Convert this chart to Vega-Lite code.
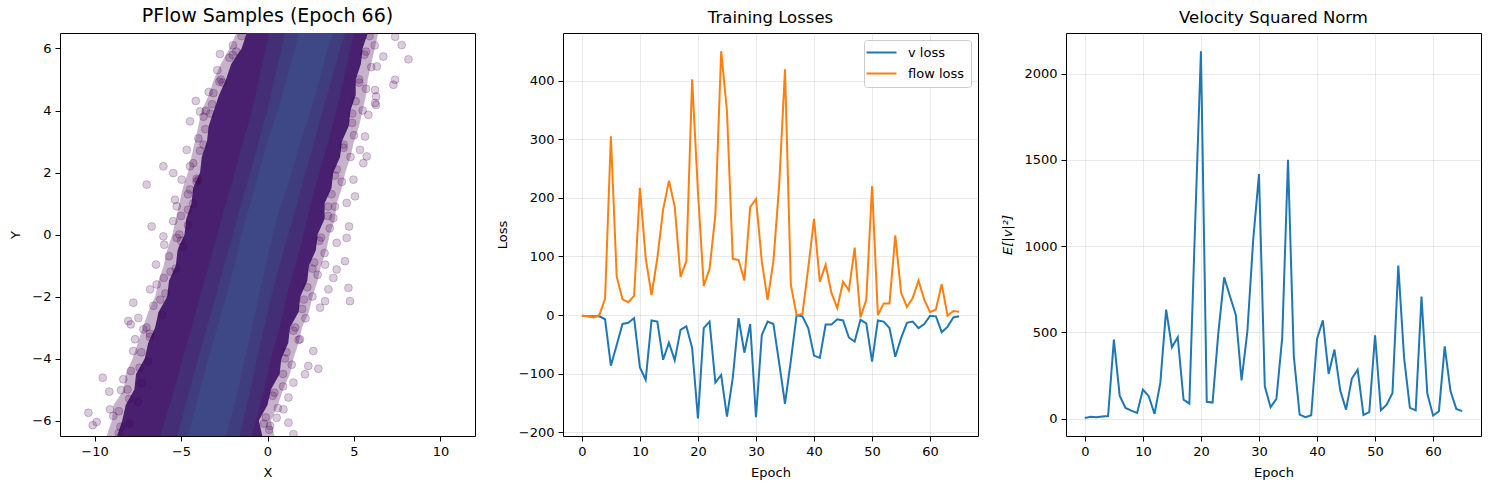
{
  "$schema": "https://vega.github.io/schema/vega-lite/v6.json",
  "padding": {"left": 9, "top": 6, "right": 5, "bottom": 5},
  "spacing": 88,
  "bounds": "flush",
  "datasets": {
    "train": [
      {"epoch": 0, "v loss": -1, "flow loss": -1, "vnorm": 4},
      {"epoch": 1, "v loss": -2, "flow loss": -2, "vnorm": 10},
      {"epoch": 2, "v loss": -2, "flow loss": -4, "vnorm": 8},
      {"epoch": 3, "v loss": -2, "flow loss": 0, "vnorm": 12},
      {"epoch": 4, "v loss": -7, "flow loss": 28, "vnorm": 15},
      {"epoch": 5, "v loss": -86, "flow loss": 305, "vnorm": 458},
      {"epoch": 6, "v loss": -51, "flow loss": 66, "vnorm": 133},
      {"epoch": 7, "v loss": -15, "flow loss": 27, "vnorm": 62},
      {"epoch": 8, "v loss": -13, "flow loss": 22, "vnorm": 46},
      {"epoch": 9, "v loss": -5, "flow loss": 33, "vnorm": 33},
      {"epoch": 10, "v loss": -89, "flow loss": 217, "vnorm": 168},
      {"epoch": 11, "v loss": -110, "flow loss": 97, "vnorm": 130},
      {"epoch": 12, "v loss": -9, "flow loss": 34, "vnorm": 27},
      {"epoch": 13, "v loss": -11, "flow loss": 97, "vnorm": 207},
      {"epoch": 14, "v loss": -76, "flow loss": 180, "vnorm": 632},
      {"epoch": 15, "v loss": -47, "flow loss": 229, "vnorm": 414},
      {"epoch": 16, "v loss": -77, "flow loss": 185, "vnorm": 472},
      {"epoch": 17, "v loss": -25, "flow loss": 65, "vnorm": 110},
      {"epoch": 18, "v loss": -19, "flow loss": 92, "vnorm": 87},
      {"epoch": 19, "v loss": -56, "flow loss": 402, "vnorm": 1130},
      {"epoch": 20, "v loss": -176, "flow loss": 210, "vnorm": 2130},
      {"epoch": 21, "v loss": -22, "flow loss": 50, "vnorm": 97},
      {"epoch": 22, "v loss": -11, "flow loss": 79, "vnorm": 93},
      {"epoch": 23, "v loss": -115, "flow loss": 171, "vnorm": 498},
      {"epoch": 24, "v loss": -102, "flow loss": 450, "vnorm": 819},
      {"epoch": 25, "v loss": -173, "flow loss": 348, "vnorm": 709},
      {"epoch": 26, "v loss": -107, "flow loss": 96, "vnorm": 603},
      {"epoch": 27, "v loss": -5, "flow loss": 94, "vnorm": 222},
      {"epoch": 28, "v loss": -64, "flow loss": 59, "vnorm": 506},
      {"epoch": 29, "v loss": -15, "flow loss": 184, "vnorm": 1035},
      {"epoch": 30, "v loss": -174, "flow loss": 198, "vnorm": 1418},
      {"epoch": 31, "v loss": -34, "flow loss": 92, "vnorm": 187},
      {"epoch": 32, "v loss": -11, "flow loss": 26, "vnorm": 66},
      {"epoch": 33, "v loss": -15, "flow loss": 92, "vnorm": 114},
      {"epoch": 34, "v loss": -82, "flow loss": 222, "vnorm": 468},
      {"epoch": 35, "v loss": -151, "flow loss": 419, "vnorm": 1501},
      {"epoch": 36, "v loss": -78, "flow loss": 52, "vnorm": 361},
      {"epoch": 37, "v loss": 0, "flow loss": 0, "vnorm": 23},
      {"epoch": 38, "v loss": -2, "flow loss": 2, "vnorm": 8},
      {"epoch": 39, "v loss": -22, "flow loss": 80, "vnorm": 19},
      {"epoch": 40, "v loss": -69, "flow loss": 164, "vnorm": 462},
      {"epoch": 41, "v loss": -73, "flow loss": 57, "vnorm": 570},
      {"epoch": 42, "v loss": -16, "flow loss": 86, "vnorm": 259},
      {"epoch": 43, "v loss": -16, "flow loss": 38, "vnorm": 400},
      {"epoch": 44, "v loss": -7, "flow loss": 12, "vnorm": 162},
      {"epoch": 45, "v loss": -9, "flow loss": 57, "vnorm": 52},
      {"epoch": 46, "v loss": -38, "flow loss": 42, "vnorm": 232},
      {"epoch": 47, "v loss": -45, "flow loss": 115, "vnorm": 284},
      {"epoch": 48, "v loss": -8, "flow loss": -4, "vnorm": 21},
      {"epoch": 49, "v loss": -14, "flow loss": 26, "vnorm": 37},
      {"epoch": 50, "v loss": -79, "flow loss": 220, "vnorm": 483},
      {"epoch": 51, "v loss": -9, "flow loss": 0, "vnorm": 48},
      {"epoch": 52, "v loss": -11, "flow loss": 20, "vnorm": 81},
      {"epoch": 53, "v loss": -22, "flow loss": 20, "vnorm": 149},
      {"epoch": 54, "v loss": -71, "flow loss": 136, "vnorm": 887},
      {"epoch": 55, "v loss": -39, "flow loss": 38, "vnorm": 352},
      {"epoch": 56, "v loss": -13, "flow loss": 14, "vnorm": 62},
      {"epoch": 57, "v loss": -11, "flow loss": 29, "vnorm": 48},
      {"epoch": 58, "v loss": -22, "flow loss": 59, "vnorm": 707},
      {"epoch": 59, "v loss": -15, "flow loss": 26, "vnorm": 145},
      {"epoch": 60, "v loss": -1, "flow loss": 5, "vnorm": 17},
      {"epoch": 61, "v loss": -2, "flow loss": 10, "vnorm": 43},
      {"epoch": 62, "v loss": -29, "flow loss": 53, "vnorm": 419},
      {"epoch": 63, "v loss": -20, "flow loss": -1, "vnorm": 158},
      {"epoch": 64, "v loss": -4, "flow loss": 7, "vnorm": 56},
      {"epoch": 65, "v loss": -2, "flow loss": 6, "vnorm": 43}
    ],
    "band": [
      {"y": -6.5, "olo": -9.3, "ohi": 0.4, "lo": -8.7, "hi": -0.3},
      {"y": -6.0, "olo": -9.0, "ohi": 0.2, "lo": -8.4, "hi": -0.5},
      {"y": -5.5, "olo": -8.9, "ohi": 0.6, "lo": -8.2, "hi": 0.0},
      {"y": -5.0, "olo": -8.3, "ohi": 0.9, "lo": -7.7, "hi": 0.2},
      {"y": -4.5, "olo": -8.2, "ohi": 1.3, "lo": -7.6, "hi": 0.7},
      {"y": -4.0, "olo": -7.8, "ohi": 1.5, "lo": -7.1, "hi": 0.8},
      {"y": -3.5, "olo": -7.5, "ohi": 1.8, "lo": -6.9, "hi": 1.2},
      {"y": -3.0, "olo": -7.2, "ohi": 2.0, "lo": -6.5, "hi": 1.3},
      {"y": -2.5, "olo": -6.9, "ohi": 2.4, "lo": -6.3, "hi": 1.8},
      {"y": -2.0, "olo": -6.5, "ohi": 2.6, "lo": -5.8, "hi": 1.9},
      {"y": -1.5, "olo": -6.3, "ohi": 2.9, "lo": -5.7, "hi": 2.3},
      {"y": -1.0, "olo": -6.0, "ohi": 3.1, "lo": -5.3, "hi": 2.4},
      {"y": -0.5, "olo": -5.8, "ohi": 3.4, "lo": -5.2, "hi": 2.8},
      {"y": 0.0, "olo": -5.5, "ohi": 3.6, "lo": -4.8, "hi": 2.9},
      {"y": 0.5, "olo": -5.3, "ohi": 3.9, "lo": -4.7, "hi": 3.3},
      {"y": 1.0, "olo": -5.1, "ohi": 4.0, "lo": -4.4, "hi": 3.3},
      {"y": 1.5, "olo": -4.9, "ohi": 4.3, "lo": -4.3, "hi": 3.7},
      {"y": 2.0, "olo": -4.6, "ohi": 4.5, "lo": -3.9, "hi": 3.8},
      {"y": 2.5, "olo": -4.4, "ohi": 4.8, "lo": -3.8, "hi": 4.2},
      {"y": 3.0, "olo": -4.2, "ohi": 5.0, "lo": -3.5, "hi": 4.3},
      {"y": 3.5, "olo": -4.0, "ohi": 5.3, "lo": -3.4, "hi": 4.7},
      {"y": 4.0, "olo": -3.8, "ohi": 5.5, "lo": -3.1, "hi": 4.8},
      {"y": 4.5, "olo": -3.4, "ohi": 5.7, "lo": -2.8, "hi": 5.1},
      {"y": 5.0, "olo": -3.1, "ohi": 5.8, "lo": -2.4, "hi": 5.1},
      {"y": 5.5, "olo": -2.7, "ohi": 6.0, "lo": -2.1, "hi": 5.4},
      {"y": 6.0, "olo": -2.2, "ohi": 6.2, "lo": -1.5, "hi": 5.5},
      {"y": 6.5, "olo": -1.8, "ohi": 6.4, "lo": -1.2, "hi": 5.8}
    ],
    "core": [
      {"y": -6.5, "wlo": -6.2, "whi": -0.9, "clo": -5.2, "chi": -1.6, "ilo": -4.6, "ihi": -2.4},
      {"y": -5, "wlo": -5.4, "whi": -0.2, "clo": -4.5, "chi": -1.0, "ilo": -3.9, "ihi": -1.7},
      {"y": -4, "wlo": -4.9, "whi": 0.2, "clo": -4.0, "chi": -0.6, "ilo": -3.4, "ihi": -1.3},
      {"y": -3, "wlo": -4.4, "whi": 0.7, "clo": -3.5, "chi": -0.2, "ilo": -2.9, "ihi": -0.9},
      {"y": -2, "wlo": -3.9, "whi": 1.1, "clo": -3.0, "chi": 0.2, "ilo": -2.4, "ihi": -0.5},
      {"y": -1, "wlo": -3.4, "whi": 1.6, "clo": -2.5, "chi": 0.7, "ilo": -1.9, "ihi": -0.1},
      {"y": 0, "wlo": -2.9, "whi": 2.1, "clo": -2.0, "chi": 1.2, "ilo": -1.5, "ihi": 0.3},
      {"y": 1, "wlo": -2.4, "whi": 2.5, "clo": -1.5, "chi": 1.7, "ilo": -1.0, "ihi": 0.8},
      {"y": 2, "wlo": -1.9, "whi": 3.0, "clo": -1.0, "chi": 2.2, "ilo": -0.5, "ihi": 1.4},
      {"y": 3, "wlo": -1.4, "whi": 3.5, "clo": -0.5, "chi": 2.7, "ilo": 0.0, "ihi": 1.9},
      {"y": 4, "wlo": -0.9, "whi": 4.0, "clo": 0.0, "chi": 3.2, "ilo": 0.6, "ihi": 2.5},
      {"y": 5, "wlo": -0.5, "whi": 4.4, "clo": 0.4, "chi": 3.7, "ilo": 1.1, "ihi": 3.0},
      {"y": 6, "wlo": -0.1, "whi": 4.8, "clo": 0.8, "chi": 4.2, "ilo": 1.6, "ihi": 3.5},
      {"y": 6.5, "wlo": 0.1, "whi": 5.0, "clo": 1.0, "chi": 4.5, "ilo": 1.8, "ihi": 3.8}
    ],
    "pts": [
      {"x": -10.36, "y": -5.75}, {"x": -10.11, "y": -6.15}, {"x": -9.88, "y": -6.05}, {"x": -9.53, "y": -4.62},
      {"x": -9.15, "y": -5.07}, {"x": -9.11, "y": -5.64}, {"x": -8.92, "y": -5.85}, {"x": -8.47, "y": -5.02},
      {"x": -8.34, "y": -4.67}, {"x": -7.76, "y": -2.2}, {"x": -8.05, "y": -2.79}, {"x": -7.91, "y": -2.9},
      {"x": -6.99, "y": 1.61}, {"x": -6.7, "y": 0.26}, {"x": -7.47, "y": -2.69}, {"x": -7.76, "y": -3.76},
      {"x": -7.18, "y": -3.06}, {"x": -7.66, "y": -3.38}, {"x": -6.79, "y": -1.77}, {"x": -6.41, "y": -1.61},
      {"x": -6.45, "y": -0.97}, {"x": -6.02, "y": 2.2}, {"x": -5.45, "y": 1.98}, {"x": -4.96, "y": 1.77},
      {"x": -6.02, "y": -0.06}, {"x": -5.97, "y": -0.33}, {"x": -5.35, "y": 1.12}, {"x": -5.25, "y": 0.91},
      {"x": -5.45, "y": 0.43}, {"x": -4.67, "y": 2.73}, {"x": -4.48, "y": 2.2}, {"x": -4.48, "y": 3.65},
      {"x": -4.15, "y": 4.31}, {"x": -3.9, "y": 3.97}, {"x": -3.56, "y": 3.99}, {"x": -3.13, "y": 4.56},
      {"x": -2.75, "y": 5.82}, {"x": -2.01, "y": 5.79}, {"x": -2.78, "y": 4.93}, {"x": -4.48, "y": 1.45},
      {"x": -4.0, "y": 1.77}, {"x": -5.25, "y": -0.11},
      {"x": 8.15, "y": 5.65}, {"x": 7.76, "y": 6.11}, {"x": 7.38, "y": 6.38}, {"x": 7.38, "y": 4.99},
      {"x": 7.28, "y": 4.83}, {"x": 6.7, "y": 5.74}, {"x": 6.32, "y": 5.42}, {"x": 6.22, "y": 4.66},
      {"x": 6.28, "y": 4.45}, {"x": 6.28, "y": 4.18}, {"x": 6.22, "y": 4.24}, {"x": 5.83, "y": 3.86},
      {"x": 5.64, "y": 3.16}, {"x": 5.74, "y": 2.52}, {"x": 5.54, "y": 2.3}, {"x": 5.35, "y": 2.73},
      {"x": 4.97, "y": 1.77}, {"x": 5.06, "y": 1.23}, {"x": 4.72, "y": 0.26}, {"x": 4.58, "y": 1.02},
      {"x": 4.58, "y": -0.11}, {"x": 4.48, "y": -0.86}, {"x": 4.68, "y": -1.72}, {"x": 4.77, "y": -2.15},
      {"x": 4.0, "y": -1.13}, {"x": 3.81, "y": -1.4}, {"x": 3.52, "y": -1.77}, {"x": 3.33, "y": -0.97},
      {"x": 3.81, "y": 0.53}, {"x": 4.0, "y": -0.27}, {"x": 3.33, "y": -2.15}, {"x": 3.04, "y": -2.36},
      {"x": 2.65, "y": -3.76}, {"x": 2.36, "y": -4.24}, {"x": 2.94, "y": -4.33}, {"x": 2.17, "y": -4.51},
      {"x": 1.88, "y": -3.38}, {"x": 1.5, "y": -4.78}, {"x": 1.21, "y": -5.26}, {"x": 0.92, "y": -5.64},
      {"x": 1.21, "y": -6.07}, {"x": 0.53, "y": -5.91}, {"x": 1.5, "y": -6.44}, {"x": 0.15, "y": -6.17},
      {"x": -8.6, "y": -6.4}, {"x": -8.0, "y": -6.1}, {"x": -8.6, "y": -5.7}, {"x": -7.5, "y": -5.4},
      {"x": -8.1, "y": -5.0}, {"x": -7.3, "y": -4.8}, {"x": -7.9, "y": -4.4}, {"x": -6.9, "y": -4.1},
      {"x": -7.3, "y": -3.8}, {"x": -6.8, "y": -3.3}, {"x": -7.0, "y": -3.0}, {"x": -6.1, "y": -2.6},
      {"x": -6.6, "y": -2.3}, {"x": -5.9, "y": -1.9}, {"x": -6.0, "y": -1.4}, {"x": -5.3, "y": -1.1},
      {"x": -5.7, "y": -0.7}, {"x": -4.9, "y": -0.4}, {"x": -5.1, "y": 0.0}, {"x": -4.6, "y": 0.3},
      {"x": -5.0, "y": 0.6}, {"x": -4.3, "y": 1.0}, {"x": -4.6, "y": 1.3}, {"x": -4.1, "y": 1.7},
      {"x": -4.3, "y": 2.3}, {"x": -3.9, "y": 2.7}, {"x": -4.0, "y": 3.1}, {"x": -3.6, "y": 3.4},
      {"x": -3.7, "y": 3.8}, {"x": -3.2, "y": 4.2}, {"x": -3.4, "y": 4.6}, {"x": -2.7, "y": 5.0},
      {"x": -2.9, "y": 5.3}, {"x": -2.2, "y": 5.7}, {"x": -2.0, "y": 6.1}, {"x": -1.5, "y": 6.4},
      {"x": 0.1, "y": -6.3}, {"x": -0.1, "y": -5.9}, {"x": 0.6, "y": -5.6}, {"x": 0.3, "y": -5.2},
      {"x": 0.9, "y": -4.9}, {"x": 0.9, "y": -4.5}, {"x": 1.4, "y": -4.2}, {"x": 1.1, "y": -3.8},
      {"x": 1.8, "y": -3.4}, {"x": 1.5, "y": -3.1}, {"x": 2.2, "y": -2.7}, {"x": 2.0, "y": -2.4},
      {"x": 2.6, "y": -2.0}, {"x": 2.3, "y": -1.7}, {"x": 2.9, "y": -1.3}, {"x": 2.7, "y": -0.9},
      {"x": 3.3, "y": -0.6}, {"x": 3.0, "y": -0.2}, {"x": 3.6, "y": 0.2}, {"x": 3.5, "y": 0.6},
      {"x": 3.9, "y": 0.9}, {"x": 3.7, "y": 1.3}, {"x": 4.3, "y": 1.7}, {"x": 4.0, "y": 2.1},
      {"x": 4.8, "y": 2.5}, {"x": 4.4, "y": 2.8}, {"x": 5.0, "y": 3.2}, {"x": 4.9, "y": 3.6},
      {"x": 5.5, "y": 4.0}, {"x": 5.1, "y": 4.3}, {"x": 5.7, "y": 4.7}, {"x": 5.3, "y": 5.0},
      {"x": 6.0, "y": 5.4}, {"x": 5.6, "y": 5.8}, {"x": 6.2, "y": 6.1}, {"x": 5.9, "y": 6.4},
      {"x": -8.5, "y": -6.2}, {"x": -8.0, "y": -5.3}, {"x": -7.4, "y": -4.3}, {"x": -6.8, "y": -3.2},
      {"x": -6.2, "y": -2.1}, {"x": -5.6, "y": -1.2}, {"x": -5.0, "y": -0.2}, {"x": -4.6, "y": 0.8},
      {"x": -4.1, "y": 1.8}, {"x": -3.7, "y": 2.9}, {"x": -3.3, "y": 3.9}, {"x": -2.6, "y": 4.9},
      {"x": -1.8, "y": 5.9}, {"x": -0.2, "y": -6.1}, {"x": 0.4, "y": -5.1}, {"x": 1.0, "y": -4.0},
      {"x": 1.6, "y": -3.0}, {"x": 2.1, "y": -2.1}, {"x": 2.6, "y": -1.1}, {"x": 3.1, "y": -0.1},
      {"x": 3.5, "y": 0.9}, {"x": 3.9, "y": 1.9}, {"x": 4.4, "y": 2.9}, {"x": 4.9, "y": 3.9},
      {"x": 5.3, "y": 4.9}, {"x": 5.7, "y": 5.9}
    ]
  },
  "hconcat": [
    {
      "width": 415,
      "height": 403,
      "title": {"text": "PFlow Samples (Epoch 66)", "fontSize": 19},
      "layer": [
        {
          "data": {"name": "band"},
          "mark": {"type": "area", "orient": "horizontal", "clip": true, "color": "#440154", "opacity": 0.3},
          "encoding": {
            "y": {"field": "y", "type": "quantitative", "scale": {"domain": [-6.5, 6.5], "nice": false, "zero": false},
              "axis": {"title": "Y", "values": [-6, -4, -2, 0, 2, 4, 6]}},
            "x": {"field": "olo", "type": "quantitative", "scale": {"domain": [-12, 12], "nice": false, "zero": false},
              "axis": {"title": "X", "values": [-10, -5, 0, 5, 10]}},
            "x2": {"field": "ohi"}
          }
        },
        {
          "data": {"name": "band"},
          "mark": {"type": "area", "orient": "horizontal", "clip": true, "color": "#48206f"},
          "encoding": {
            "y": {"field": "y", "type": "quantitative"},
            "x": {"field": "lo", "type": "quantitative"},
            "x2": {"field": "hi"}
          }
        },
        {
          "data": {"name": "core"},
          "mark": {"type": "area", "orient": "horizontal", "clip": true, "color": "#3b528b", "opacity": 0.3},
          "encoding": {
            "y": {"field": "y", "type": "quantitative"},
            "x": {"field": "wlo", "type": "quantitative"},
            "x2": {"field": "whi"}
          }
        },
        {
          "data": {"name": "core"},
          "mark": {"type": "area", "orient": "horizontal", "clip": true, "color": "#3b528b", "opacity": 0.4},
          "encoding": {
            "y": {"field": "y", "type": "quantitative"},
            "x": {"field": "clo", "type": "quantitative"},
            "x2": {"field": "chi"}
          }
        },
        {
          "data": {"name": "core"},
          "mark": {"type": "area", "orient": "horizontal", "clip": true, "color": "#3b5a90", "opacity": 0.4},
          "encoding": {
            "y": {"field": "y", "type": "quantitative"},
            "x": {"field": "ilo", "type": "quantitative"},
            "x2": {"field": "ihi"}
          }
        },
        {
          "data": {"name": "pts"},
          "mark": {"type": "circle", "clip": true, "size": 62, "color": "#440154", "fillOpacity": 0.2, "stroke": "#440154", "strokeOpacity": 0.22, "strokeWidth": 1},
          "encoding": {
            "x": {"field": "x", "type": "quantitative"},
            "y": {"field": "y", "type": "quantitative"}
          }
        }
      ]
    },
    {
      "width": 415,
      "height": 403,
      "title": {"text": "Training Losses"},
      "data": {"name": "train"},
      "transform": [{"fold": ["v loss", "flow loss"], "as": ["series", "loss"]}],
      "mark": {"type": "line", "strokeWidth": 2},
      "encoding": {
        "x": {"field": "epoch", "type": "quantitative", "scale": {"domain": [-3.25, 68.25], "nice": false, "zero": false},
          "axis": {"title": "Epoch", "values": [0, 10, 20, 30, 40, 50, 60], "grid": true}},
        "y": {"field": "loss", "type": "quantitative", "scale": {"domain": [-206, 481], "nice": false, "zero": false},
          "axis": {"title": "Loss", "values": [-200, -100, 0, 100, 200, 300, 400], "grid": true}},
        "color": {"field": "series", "type": "nominal",
          "scale": {"domain": ["v loss", "flow loss"], "range": ["#1f77b4", "#ff7f0e"]},
          "legend": {"title": null, "orient": "top-right", "offset": 7, "symbolType": "M-3,0L3,0", "symbolSize": 100,
            "symbolOffset": 5, "symbolStrokeWidth": 2, "labelFontSize": 13, "labelOffset": 20, "rowPadding": 7, "padding": 6,
            "fillColor": "rgba(255,255,255,0.8)", "strokeColor": "#cccccc", "cornerRadius": 3}}
      }
    },
    {
      "width": 415,
      "height": 403,
      "title": {"text": "Velocity Squared Norm"},
      "data": {"name": "train"},
      "mark": {"type": "line", "strokeWidth": 2, "color": "#1f77b4"},
      "encoding": {
        "x": {"field": "epoch", "type": "quantitative", "scale": {"domain": [-3.25, 68.25], "nice": false, "zero": false},
          "axis": {"title": "Epoch", "values": [0, 10, 20, 30, 40, 50, 60], "grid": true}},
        "y": {"field": "vnorm", "type": "quantitative", "scale": {"domain": [-101, 2236], "nice": false, "zero": false},
          "axis": {"title": "E[|v|²]", "titleFontStyle": "italic", "format": "d", "values": [0, 500, 1000, 1500, 2000], "grid": true}}
      }
    }
  ],
  "resolve": {"scale": {"color": "independent"}, "legend": {"color": "independent"}},
  "config": {
    "font": "DejaVu Sans",
    "background": "white",
    "view": {"stroke": "#000000", "strokeWidth": 1},
    "title": {"font": "DejaVu Sans", "fontSize": 16.5, "fontWeight": "normal", "color": "#000000", "anchor": "middle", "baseline": "alphabetic", "offset": 7},
    "axis": {
      "labelFont": "DejaVu Sans", "labelFontSize": 13, "labelColor": "#000000",
      "titleFont": "DejaVu Sans", "titleFontSize": 13, "titleFontWeight": "normal", "titleColor": "#000000",
      "tickColor": "#000000", "tickSize": 5, "tickWidth": 1, "labelPadding": 4,
      "domain": false, "grid": false, "labelFlush": false,
      "gridColor": "#b0b0b0", "gridOpacity": 0.35, "gridWidth": 0.8
    },
    "axisY": {"titlePadding": 9},
    "axisX": {"titlePadding": 8},
    "legend": {"labelFont": "DejaVu Sans", "labelColor": "#000000"}
  }
}
